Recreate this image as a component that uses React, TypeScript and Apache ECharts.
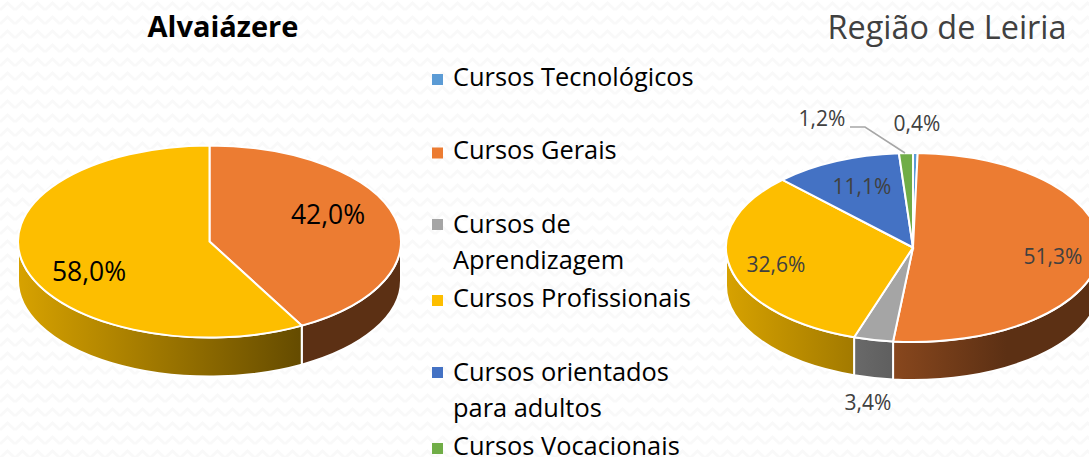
import React, { useEffect, useRef } from "react";
import * as echarts from "echarts";

const categories = [
  "Cursos Tecnológicos",
  "Cursos Gerais",
  "Cursos de\nAprendizagem",
  "Cursos Profissionais",
  "Cursos orientados\npara adultos",
  "Cursos Vocacionais",
];
const alvaiazereValues = [0, 42.0, 0, 58.0, 0, 0];
const regiaoValues = [0.4, 51.3, 3.4, 32.6, 11.1, 1.2];
const palette = ["#5B9BD5", "#EC7C32", "#A5A5A5", "#FDBE00", "#4472C4", "#70AD47"];
const pieValues = [alvaiazereValues, regiaoValues];

// Layout of the two tilted pies (pixels)
const pies = [
  { cx: 209.5, cy: 241.5, rx: 191.5, ry: 96, depth: 39, labelColor: "#000000", fontSize: 26.5 },
  { cx: 913, cy: 247.5, rx: 187, ry: 94.5, depth: 38, labelColor: "#404040", fontSize: 21 },
];
// label centres [pie][category]
const labelAnchors: (number[] | null)[][] = [
  [null, [328, 214], null, [89, 271], null, null],
  [[917, 123], [1053, 256], [868, 402], [776, 264], [862, 186], [822, 118]],
];
const legendTops = [63, 136.5, 204.5, 284, 352.5, 432];
const FONT = "'Open Sans', sans-serif";
const D2R = Math.PI / 180;

const shade = (hex: string, f: number) => {
  const n = parseInt(hex.slice(1), 16);
  const c = [(n >> 16) & 255, (n >> 8) & 255, n & 255].map((v) => Math.round(v * f));
  return `rgb(${c[0]},${c[1]},${c[2]})`;
};

function renderSlice(params: any, api: any) {
  const cat = params.seriesIndex;
  const pieIdx = params.dataIndex;
  const value = api.value(0);
  if (!value) return null;
  const p = pies[pieIdx];
  const vals = pieValues[pieIdx];
  const total = vals.reduce((a, b) => a + b, 0);
  const before = vals.slice(0, cat).reduce((a, b) => a + b, 0);
  const a0 = (before / total) * 360;
  const a1 = ((before + value) / total) * 360;
  const pt = (a: number, dy = 0) => [
    p.cx + p.rx * Math.sin(a * D2R),
    p.cy - p.ry * Math.cos(a * D2R) + dy,
  ];
  const arc = (to: number[], large: number, sweep: number) =>
    `A${p.rx} ${p.ry} 0 ${large} ${sweep} ${to[0]} ${to[1]}`;
  const color = palette[cat];
  const children: any[] = [];

  const w0 = Math.max(a0, 90);
  const w1 = Math.min(a1, 270);
  if (w1 > w0) {
    const s = pt(w0);
    const e = pt(w1);
    const sb = pt(w0, p.depth);
    const eb = pt(w1, p.depth);
    children.push({
      type: "path",
      shape: {
        pathData: `M${s[0]} ${s[1]}${arc(e, 0, 1)}L${eb[0]} ${eb[1]}${arc(sb, 0, 0)}Z`,
      },
      style: {
        fill: new echarts.graphic.LinearGradient(
          p.cx - p.rx, 0, p.cx + 0.5 * p.rx, 0,
          [
            { offset: 0, color: shade(color, 0.85) },
            { offset: 1, color: shade(color, 0.39) },
          ],
          true
        ),
        stroke: "#ffffff",
        lineWidth: 2,
      },
    });
  }
  const s = pt(a0);
  const e = pt(a1);
  children.push({
    type: "path",
    shape: {
      pathData: `M${p.cx} ${p.cy}L${s[0]} ${s[1]}${arc(e, a1 - a0 > 180 ? 1 : 0, 1)}Z`,
    },
    style: { fill: color, stroke: "#ffffff", lineWidth: 2 },
  });
  const anchor = labelAnchors[pieIdx][cat];
  if (anchor) {
    children.push({
      type: "text",
      z2: 50,
      style: {
        text: value.toFixed(1).replace(".", ",") + "%",
        x: anchor[0],
        y: anchor[1],
        align: "center",
        verticalAlign: "middle",
        fill: p.labelColor,
        font: `${p.fontSize}px ${FONT}`,
      },
    });
  }
  if (pieIdx === 1 && cat === 5) {
    children.push({
      type: "polyline",
      z2: 40,
      shape: { points: [[850, 127], [865, 127], [905, 153]] },
      style: { stroke: "#A6A6A6", lineWidth: 1.5, fill: "none" },
    });
  }
  return { type: "group", children };
}

const pattern =
  "data:image/svg+xml;utf8," +
  encodeURIComponent(
    `<svg xmlns='http://www.w3.org/2000/svg' width='15' height='14'><polyline points='0,10 7.5,3 15,10' fill='none' stroke='#f9f9f9' stroke-width='3'/></svg>`
  );

export default function App() {
  const ref = useRef<HTMLDivElement>(null);
  useEffect(() => {
    const chart = echarts.init(ref.current!, null, { renderer: "svg", width: 1089, height: 457 });
    chart.setOption({
      animation: false,
      title: [
        {
          text: "Alvaiázere",
          left: 218,
          top: 6,
          textAlign: "center",
          textStyle: { fontFamily: FONT, fontSize: 29, fontWeight: "bold", color: "#000000" },
        },
        {
          text: "Região de Leiria",
          left: 942,
          top: 5,
          textAlign: "center",
          textStyle: { fontFamily: FONT, fontSize: 32.4, fontWeight: "normal", color: "#404040" },
        },
      ],
      legend: categories.map((name, i) => {
        const wrapped = name.includes("\n");
        return {
          data: [name],
          left: 432,
          top: legendTops[i],
          orient: "vertical",
          selectedMode: false,
          itemWidth: 16,
          itemHeight: wrapped ? 47 : 20,
          symbolKeepAspect: false,
          icon: wrapped
            ? "path://M0 0h.01v.01zM0 2H11V13H0ZM16 47h.01v.01z"
            : "path://M0 0h.01v.01zM0 8.5H11V19.5H0ZM16 20h.01v.01z",
          padding: 0,
          textStyle: {
            fontFamily: FONT,
            fontSize: 25.4,
            lineHeight: wrapped ? 36 : 20,
            color: "#000000",
          },
        };
      }),
      series: categories.map((name, i) => ({
        type: "custom",
        name,
        coordinateSystem: "none",
        itemStyle: { color: palette[i] },
        renderItem: renderSlice,
        data: [alvaiazereValues[i], regiaoValues[i]],
      })),
    });
    return () => chart.dispose();
  }, []);
  return (
    <div
      style={{
        position: "fixed",
        left: 0,
        top: 0,
        width: 1089,
        height: 457,
        overflow: "hidden",
        backgroundColor: "#ffffff",
        backgroundImage: `url("${pattern}")`,
      }}
    >
      <div ref={ref} style={{ width: 1089, height: 457 }} />
    </div>
  );
}
